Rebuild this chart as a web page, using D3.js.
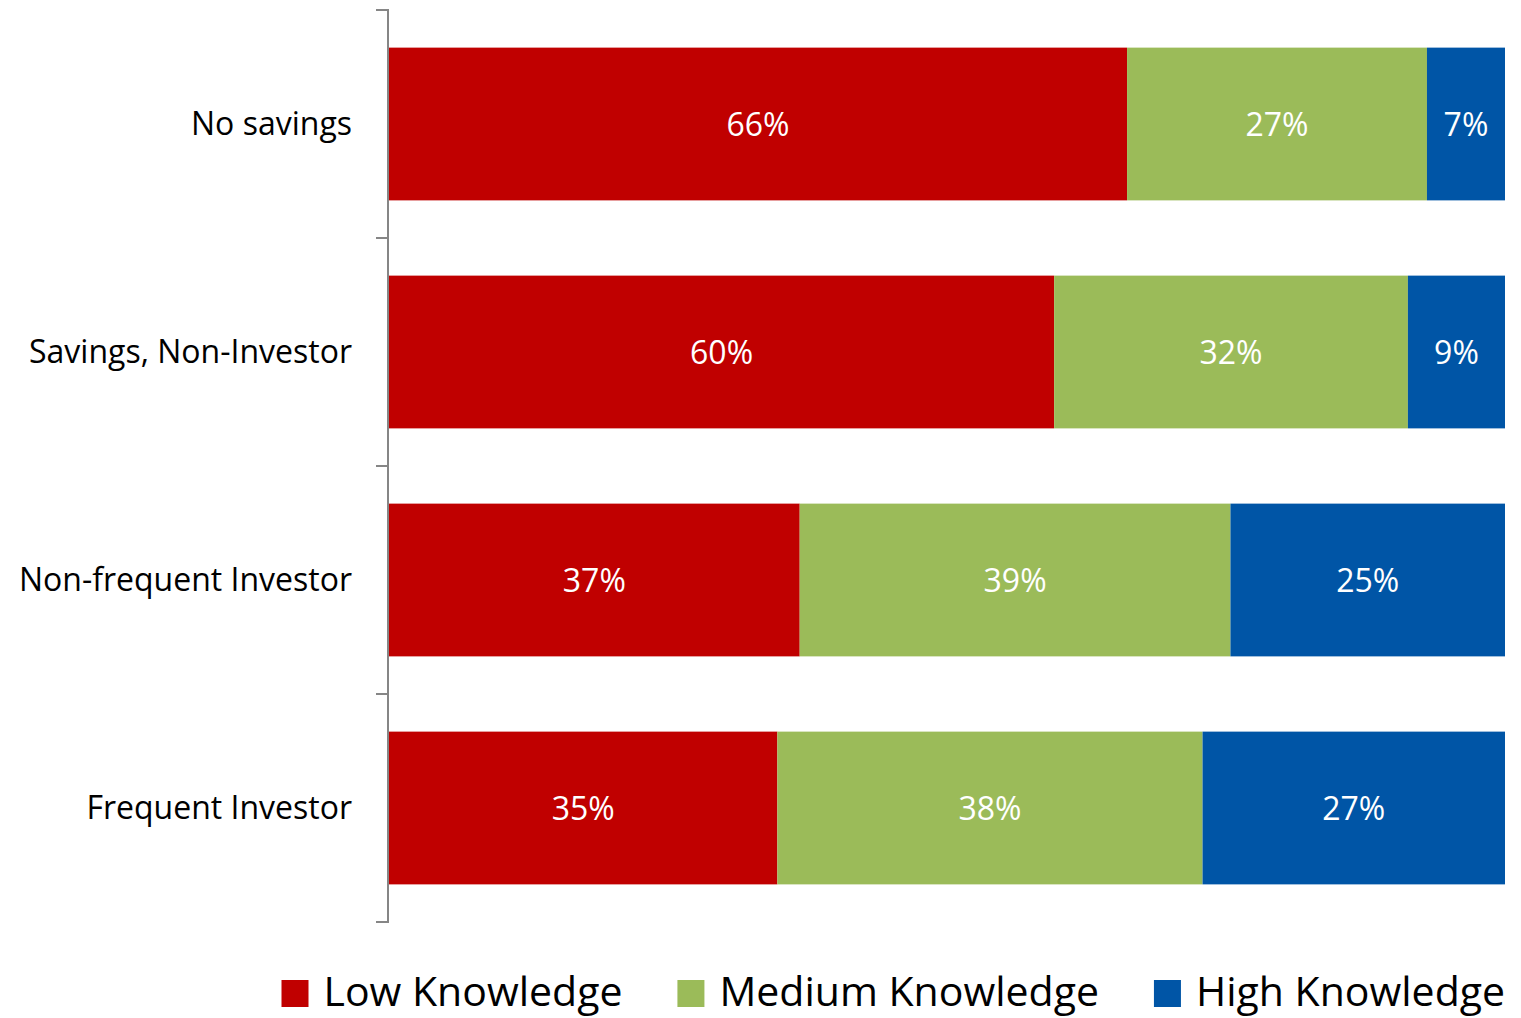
<!DOCTYPE html>
<html><head><meta charset="utf-8">
<script src="https://cdn.jsdelivr.net/npm/d3@7"></script>
<style>body{margin:0;background:#fff;} svg{display:block;}</style>
</head><body>
<svg id="c" width="1521" height="1018"></svg>
<script>
const categories = ["No savings", "Savings, Non-Investor", "Non-frequent Investor", "Frequent Investor"];
const seriesNames = ["Low Knowledge", "Medium Knowledge", "High Knowledge"];
const lowValues = [66.2, 59.6, 36.8, 34.8];
const mediumValues = [26.9, 31.7, 38.6, 38.1];
const highValues = [7.0, 8.7, 24.6, 27.1];
const seriesColors = ["#C00000", "#9BBB59", "#0055A6"];

const FONT = "'Open Sans', sans-serif";
const rows = categories.map((c, i) => ({cat: c, "Low Knowledge": lowValues[i], "Medium Knowledge": mediumValues[i], "High Knowledge": highValues[i]}));
const stack = d3.stack().keys(seriesNames).offset(d3.stackOffsetExpand);
const layers = stack(rows);

const svg = d3.select("#c");
const x = d3.scaleLinear().domain([0, 1]).range([389, 1505]);
const y = d3.scaleBand().domain(categories).range([10, 922]).paddingInner(0.33).paddingOuter(0.165);

const g = svg.append("g");
layers.forEach((layer, si) => {
  g.selectAll(null).data(layer).enter().append("rect")
    .attr("x", d => x(d[0])).attr("width", d => x(d[1]) - x(d[0]))
    .attr("y", d => y(d.data.cat)).attr("height", y.bandwidth())
    .attr("fill", seriesColors[si]);
  g.selectAll(null).data(layer).enter().append("text")
    .attr("x", d => (x(d[0]) + x(d[1])) / 2)
    .attr("y", d => y(d.data.cat) + y.bandwidth() / 2 + 12)
    .attr("text-anchor", "middle").attr("fill", "#fff")
    .style("font-family", FONT).style("font-size", "32px")
    .text(d => Math.round(d.data[seriesNames[si]]) + "%");
});

// axis
const ax = svg.append("g");
ax.append("line").attr("x1", 388).attr("x2", 388).attr("y1", y.range()[0]).attr("y2", y.range()[1])
  .attr("stroke", "#868686").attr("stroke-width", 2);
const bounds = d3.range(categories.length + 1).map(i => y.range()[0] + i * y.step());
ax.selectAll(null).data(bounds).enter().append("line")
  .attr("x1", 376).attr("x2", 389).attr("y1", d => d).attr("y2", d => d)
  .attr("stroke", "#868686").attr("stroke-width", 2);
ax.selectAll(null).data(categories).enter().append("text")
  .attr("x", 352).attr("y", d => y(d) + y.bandwidth() / 2 + 11)
  .attr("text-anchor", "end").attr("fill", "#000")
  .style("font-family", FONT).style("font-size", "32px")
  .text(d => d);

// legend
const leg = svg.append("g");
const items = seriesNames.map((n, i) => {
  const t = leg.append("text").attr("y", 1006).attr("fill", "#000")
    .style("font-family", FONT).style("font-size", "41px").text(n);
  const w = t.node().getComputedTextLength();
  return {t, w, i};
});
const sq = 27, gap1 = 15, gap2 = 55;
let total = items.reduce((s, it) => s + sq + gap1 + it.w, 0) + gap2 * (items.length - 1);
let cx = 1505 - total;
items.forEach(it => {
  leg.append("rect").attr("x", cx).attr("y", 980).attr("width", sq).attr("height", sq).attr("fill", seriesColors[it.i]);
  it.t.attr("x", cx + sq + gap1);
  cx += sq + gap1 + it.w + gap2;
});
</script>
</body></html>
